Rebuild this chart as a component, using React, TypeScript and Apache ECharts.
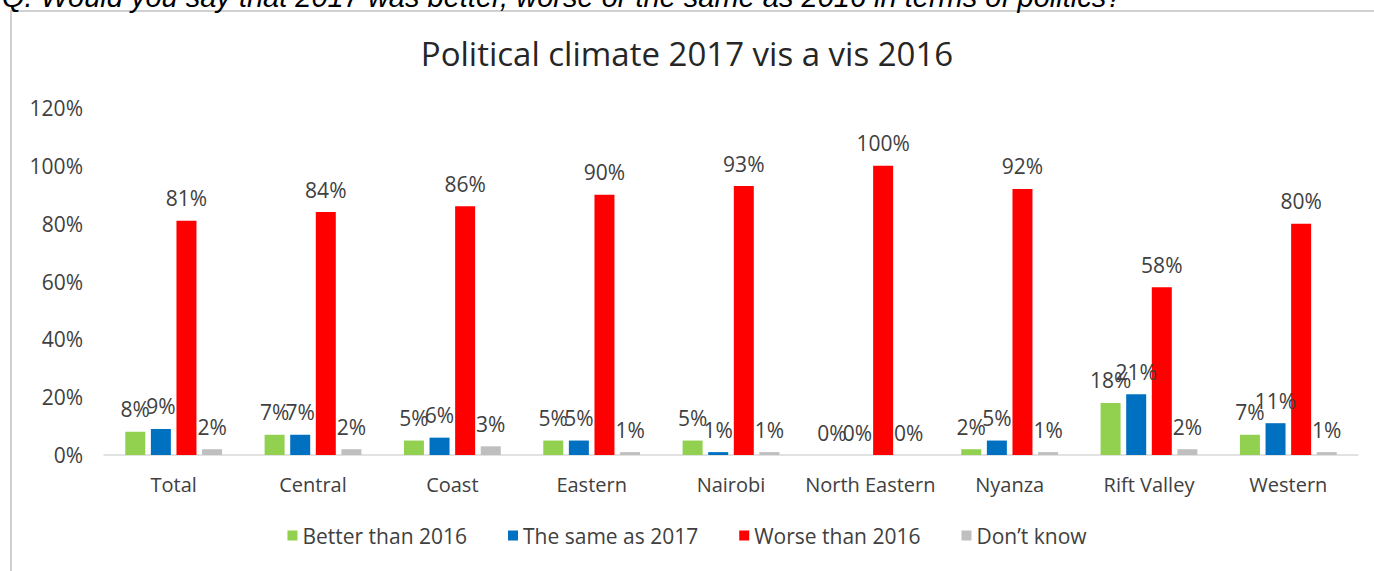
import React, { useEffect, useRef } from "react";
import * as echarts from "echarts";

const categories = ["Total", "Central", "Coast", "Eastern", "Nairobi", "North Eastern", "Nyanza", "Rift Valley", "Western"];
const betterThan2016 = [8, 7, 5, 5, 5, 0, 2, 18, 7];
const sameAs2017 = [9, 7, 6, 5, 1, 0, 5, 21, 11];
const worseThan2016 = [81, 84, 86, 90, 93, 100, 92, 58, 80];
const dontKnow = [2, 2, 3, 1, 1, 0, 1, 2, 1];
const seriesNames = ["Better than 2016", "The same as 2017", "Worse than 2016", "Don\u2019t know"];
const colors = ["#92d050", "#0070c0", "#ff0000", "#bfbfbf"];
const titleText = "Political climate 2017 vis a vis 2016";
const questionText = "Q. Would you say that 2017 was better, worse or the same as 2016 in terms of politics?";

const FONT = "Open Sans";
const TXT = "#404040";

export default function App() {
  const ref = useRef<HTMLDivElement>(null);
  useEffect(() => {
    if (!ref.current) return;
    const chart = echarts.init(ref.current, null, { renderer: "svg" });
    const data = [betterThan2016, sameAs2017, worseThan2016, dontKnow];
    chart.setOption({
      animation: false,
      backgroundColor: "#ffffff",
      title: {
        text: titleText,
        left: "center",
        top: 32,
        textStyle: { fontFamily: FONT, fontSize: 33, fontWeight: "normal", color: "#262626" },
      },
      graphic: [
        {
          type: "rect",
          shape: { x: 11, y: 11, width: 1400, height: 600 },
          style: { fill: "none", stroke: "#d0d0d0", lineWidth: 2 },
          silent: true,
        },
        {
          type: "text",
          x: 2,
          y: 11,
          style: {
            text: questionText,
            fontFamily: "Liberation Sans",
            fontStyle: "italic",
            fontSize: 29,
            fill: "#000000",
            verticalAlign: "bottom",
          },
        },
      ],
      legend: {
        bottom: 20,
        left: "center",
        itemWidth: 10,
        itemHeight: 10,
        itemGap: 41,
        icon: "rect",
        textStyle: { fontFamily: FONT, fontSize: 21, color: TXT },
        data: seriesNames,
      },
      grid: { left: 104, right: 16, top: 108, bottom: 116 },
      xAxis: {
        type: "category",
        data: categories,
        axisTick: { show: false },
        axisLine: { lineStyle: { color: "#d9d9d9", width: 1.5 } },
        axisLabel: { fontFamily: FONT, fontSize: 20, color: TXT, margin: 19, interval: 0 },
      },
      yAxis: {
        type: "value",
        min: 0,
        max: 120,
        interval: 20,
        splitLine: { show: false },
        axisLine: { show: false },
        axisTick: { show: false },
        axisLabel: { fontFamily: FONT, fontSize: 21, color: TXT, margin: 21, formatter: "{value}%" },
      },
      series: seriesNames.map((name, i) => ({
        name,
        type: "bar",
        data: data[i],
        barWidth: 20,
        barGap: "28%",
        itemStyle: { color: colors[i] },
        label: {
          show: true,
          position: "top",
          distance: 12,
          formatter: "{c}%",
          fontFamily: FONT,
          fontSize: 21,
          color: TXT,
        },
      })),
    });
    return () => chart.dispose();
  }, []);
  return (
    <div
      ref={ref}
      style={{ position: "fixed", left: 0, top: 0, width: 1374, height: 571 }}
    />
  );
}
